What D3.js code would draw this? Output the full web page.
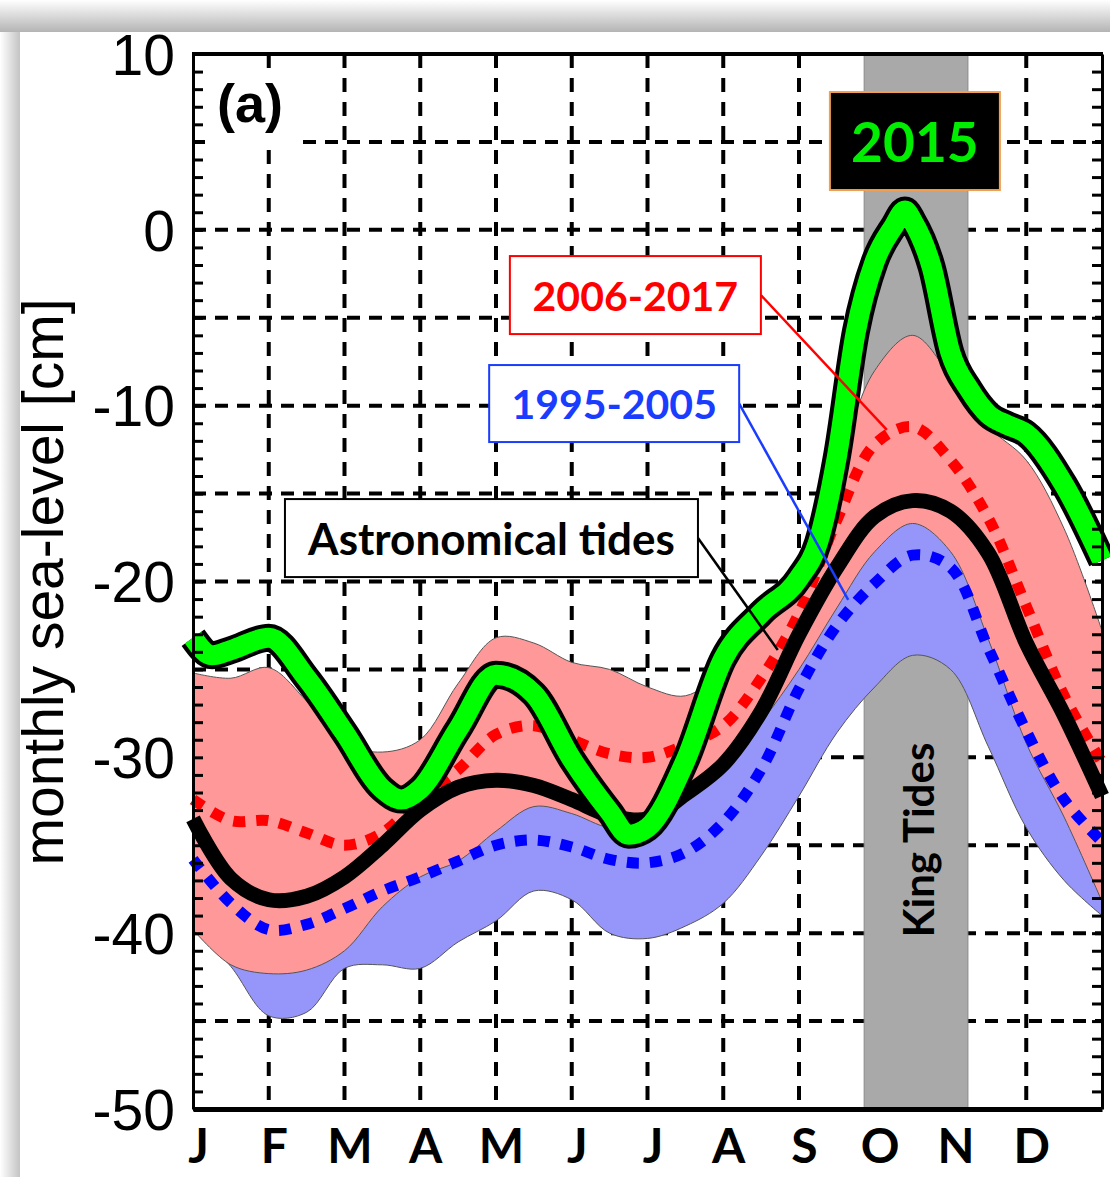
<!DOCTYPE html>
<html>
<head>
<meta charset="utf-8">
<script src="https://cdn.jsdelivr.net/npm/d3@7"></script>
<style>
  body { margin: 0; background: #fff; }
  svg { display: block; }
</style>
</head>
<body>
<div id="chart"></div>
<script>
// month labels along the bottom
const months = ["J", "F", "M", "A", "M", "J", "J", "A", "S", "O", "N", "D"];
const yTicks = [10, 0, -10, -20, -30, -40, -50];

// half-month sample grid (months since 1 Jan)
const gridT = [0, 0.5, 1, 1.5, 2, 2.5, 3, 3.5, 4, 4.5, 5, 5.5, 6, 6.5, 7, 7.5, 8, 8.5, 9, 9.5, 10, 10.5, 11, 11.5, 12];

// astronomical tides (black)
const astroTide = [-33.5, -36.9, -38.1, -37.9, -36.8, -35.0, -33.0, -31.7, -31.3, -31.6, -32.4, -33.3, -33.5, -32.1, -30.4, -27.4, -23.0, -19.2, -16.3, -15.4, -16.0, -18.4, -23.5, -27.6, -32.2];

// 2006-2017 mean and range
const mean0617  = [-32.4, -33.6, -33.6, -34.3, -35.0, -34.3, -32.3, -30.7, -28.7, -28.2, -29.0, -29.8, -30.0, -29.3, -28.2, -25.5, -21.8, -16.5, -12.2, -11.2, -13.1, -16.4, -21.4, -26.5, -30.3];
const upper0617 = [-25.2, -25.5, -24.9, -26.8, -29.2, -29.7, -29.0, -25.8, -23.2, -23.5, -24.6, -25.0, -26.0, -26.5, -25.0, -22.0, -18.5, -13.5, -8.0, -6.0, -8.3, -11.2, -13.1, -17.0, -22.8];
const lower0617 = [-39.8, -41.8, -42.3, -42.1, -41.0, -38.5, -36.8, -35.9, -34.2, -32.8, -33.2, -34.0, -33.8, -32.0, -30.5, -28.0, -25.0, -21.5, -18.3, -16.7, -18.3, -23.3, -29.2, -33.4, -38.2];

// 1995-2005 mean and range
const mean9505  = [-35.8, -38.3, -39.8, -39.5, -38.6, -37.6, -36.8, -35.9, -35.0, -34.7, -35.1, -35.8, -36.0, -35.4, -33.7, -30.7, -26.1, -22.5, -20.1, -18.5, -19.2, -23.8, -28.5, -32.4, -34.8];
const upper9505 = [-31.8, -34.3, -35.8, -35.5, -34.6, -33.6, -32.8, -31.9, -31.0, -30.7, -31.1, -31.8, -32.0, -31.4, -29.7, -26.7, -22.1, -18.5, -16.1, -14.5, -15.2, -19.8, -24.5, -28.4, -30.8];
const lower9505 = [-39.6, -41.9, -44.7, -44.5, -42.0, -41.8, -42.0, -40.5, -39.3, -37.6, -38.1, -40.0, -40.3, -39.6, -38.3, -35.6, -32.2, -28.6, -26.0, -24.2, -25.0, -29.4, -34.0, -37.0, -39.0];

// 2015 (green)
const t2015   = [0, 0.25, 0.5, 1, 1.5, 2, 2.5, 2.75, 3, 3.5, 4, 4.5, 5, 5.5, 5.75, 6, 6.5, 7, 7.5, 8, 8.25, 8.5, 8.75, 9, 9.25, 9.4, 9.5, 9.75, 10, 10.25, 10.5, 10.75, 11, 11.5, 12];
const sea2015 = [-23.2, -24.2, -23.9, -23.2, -25.5, -28.6, -31.8, -32.4, -31.8, -28.4, -25.3, -26.4, -30.1, -33.1, -34.4, -34.0, -30.2, -24.4, -21.8, -19.8, -17.8, -12.9, -5.8, -1.8, 0.2, 1.1, 0.5, -2.1, -7.0, -9.1, -10.5, -11.1, -11.6, -14.5, -18.8];

const kingTides = [8.86, 10.23];

const W = 1110, H = 1177;
const x = d3.scaleLinear().domain([0, 12]).range([193, 1102]);
const y = d3.scaleLinear().domain([-50, 10]).range([1109, 54]);

const svg = d3.select("#chart").append("svg")
  .attr("width", W)
  .attr("height", H);

// drop shadow of the pasted figure
const defs = svg.append("defs");
const gTop = defs.append("linearGradient").attr("id", "shTop").attr("x1", 0).attr("y1", 0).attr("x2", 0).attr("y2", 1);
gTop.append("stop").attr("offset", "0%").attr("stop-color", "#ffffff");
gTop.append("stop").attr("offset", "100%").attr("stop-color", "#b4b4b4");
const gLeft = defs.append("linearGradient").attr("id", "shLeft").attr("x1", 0).attr("y1", 0).attr("x2", 1).attr("y2", 0);
gLeft.append("stop").attr("offset", "0%").attr("stop-color", "#ffffff");
gLeft.append("stop").attr("offset", "100%").attr("stop-color", "#c4c4c4");

svg.append("rect").attr("x", 0).attr("y", 0).attr("width", W).attr("height", 32).attr("fill", "url(#shTop)");
svg.append("rect").attr("x", 0).attr("y", 32).attr("width", 20).attr("height", H - 32).attr("fill", "url(#shLeft)");

// dashed grid
const grid = svg.append("g");
grid.selectAll(".hg").data(d3.range(-45, 10, 5)).join("line")
  .attr("x1", x(0)).attr("x2", x(12))
  .attr("y1", d => y(d)).attr("y2", d => y(d))
  .attr("stroke", "#000").attr("stroke-width", 4).attr("stroke-dasharray", "13 9");
grid.selectAll(".vg").data(d3.range(1, 12)).join("line")
  .attr("x1", d => x(d)).attr("x2", d => x(d))
  .attr("y1", y(10)).attr("y2", y(-50))
  .attr("stroke", "#000").attr("stroke-width", 4).attr("stroke-dasharray", "14 10");

// panel label (a) sits on a white patch
svg.append("rect").attr("x", 205).attr("y", 78).attr("width", 93).attr("height", 68).attr("fill", "#fff");
svg.append("text").attr("x", 217).attr("y", 122)
  .attr("font-family", "Liberation Sans, Arial, sans-serif").attr("font-weight", "bold")
  .attr("font-size", 54).text("(a)");

// King Tides band
svg.append("rect")
  .attr("x", x(kingTides[0])).attr("y", y(10))
  .attr("width", x(kingTides[1]) - x(kingTides[0])).attr("height", y(-50) - y(10))
  .attr("fill", "#a9a9a9").attr("stroke", "#8a8a8a").attr("stroke-width", 1);

// ranges
const bandArea = (lo, hi) => d3.area()
  .x((d, i) => x(gridT[i]))
  .y0((d, i) => y(lo[i]))
  .y1((d, i) => y(hi[i]))
  .curve(d3.curveCatmullRom.alpha(0.5));

svg.append("path").datum(gridT).attr("d", bandArea(lower9505, upper9505))
  .attr("fill", "#9696fa").attr("stroke", "#555").attr("stroke-width", 1);
svg.append("path").datum(gridT).attr("d", bandArea(lower0617, upper0617))
  .attr("fill", "#ff9999").attr("stroke", "#555").attr("stroke-width", 1);

const lineOf = vals => d3.line()
  .x((d, i) => x(gridT[i]))
  .y((d, i) => y(vals[i]))
  .curve(d3.curveCatmullRom.alpha(0.5));

svg.append("path").datum(gridT).attr("d", lineOf(mean0617))
  .attr("fill", "none").attr("stroke", "#ff0000").attr("stroke-width", 11).attr("stroke-dasharray", "12 11");
svg.append("path").datum(gridT).attr("d", lineOf(mean9505))
  .attr("fill", "none").attr("stroke", "#0000ff").attr("stroke-width", 11).attr("stroke-dasharray", "12 11");
svg.append("path").datum(gridT).attr("d", lineOf(astroTide))
  .attr("fill", "none").attr("stroke", "#000").attr("stroke-width", 15);

// 2015, green with black outline
const line2015 = d3.line()
  .x((d, i) => x(t2015[i]))
  .y((d, i) => y(sea2015[i]))
  .curve(d3.curveMonotoneX);
svg.append("path").datum(t2015).attr("d", line2015)
  .attr("fill", "none").attr("stroke", "#000").attr("stroke-width", 28).attr("stroke-linejoin", "round");
svg.append("path").datum(t2015).attr("d", line2015)
  .attr("fill", "none").attr("stroke", "#00ff00").attr("stroke-width", 20).attr("stroke-linejoin", "round");

// axes frame with inward minor ticks
const minor = d3.range(-50, 11, 1);
svg.append("g").attr("transform", `translate(${x(0)},0)`)
  .call(d3.axisLeft(y).tickValues(minor).tickSize(-10).tickSizeOuter(0).tickFormat(""))
  .call(g => g.selectAll("line,path").attr("stroke", "#000").attr("stroke-width", 3));
svg.append("g").attr("transform", `translate(${x(12)},0)`)
  .call(d3.axisRight(y).tickValues(minor).tickSize(-10).tickSizeOuter(0).tickFormat(""))
  .call(g => g.selectAll("line,path").attr("stroke", "#000").attr("stroke-width", 3));
svg.append("line").attr("x1", x(0) - 1).attr("x2", x(12) + 1).attr("y1", y(10)).attr("y2", y(10))
  .attr("stroke", "#000").attr("stroke-width", 4);

// y tick labels (plain hyphen, as in the original)
svg.append("g").attr("transform", `translate(${x(0)},2)`)
  .call(d3.axisLeft(y).tickValues(yTicks).tickSize(0).tickPadding(18).tickFormat(d => String(d)))
  .call(g => g.select(".domain").remove())
  .call(g => g.selectAll("text")
    .attr("font-family", "Liberation Sans, Arial, sans-serif")
    .attr("font-size", 57).attr("fill", "#000"));

// month axis
svg.append("g").attr("transform", `translate(0,${y(-50)})`)
  .call(d3.axisBottom(x).tickValues(d3.range(12)).tickFormat(i => months[i]).tickSize(0).tickPadding(20).tickSizeOuter(0))
  .call(g => g.select(".domain").attr("stroke", "#000").attr("stroke-width", 5))
  .call(g => g.selectAll("text")
    .attr("dx", 5)
    .attr("font-family", "Lato, sans-serif").attr("font-weight", "bold")
    .attr("font-size", 48).attr("fill", "#000"));

// y axis title
svg.append("text")
  .attr("transform", "translate(63,582) rotate(-90)")
  .attr("text-anchor", "middle")
  .attr("font-family", "Liberation Sans, Arial, sans-serif")
  .attr("font-size", 57)
  .text("monthly sea-level [cm]");

// King Tides label
svg.append("text")
  .attr("transform", `translate(${x(9.57)},${y(-34.7)}) rotate(-90)`)
  .attr("text-anchor", "middle").attr("dominant-baseline", "central")
  .attr("font-family", "Lato, sans-serif").attr("font-weight", "bold")
  .attr("font-size", 42).text("King Tides");

// callout boxes: centre in data units, size in px, leader end in data units
const notes = [
  { text: "2006-2017", color: "#ff0000", stroke: "#ff0000", fill: "#fff", cx: 5.84, cy: -3.71, w: 251, h: 78, size: 41, to: [9.16, -11.38] },
  { text: "1995-2005", color: "#1a3cff", stroke: "#1a3cff", fill: "#fff", cx: 5.56, cy: -9.88, w: 250, h: 77, size: 41, to: [8.65, -21.05] },
  { text: "Astronomical tides", color: "#000", stroke: "#000", fill: "#fff", cx: 3.94, cy: -17.53, w: 413, h: 78, size: 44, to: [7.72, -23.9] },
  { text: "2015", color: "#00ee00", stroke: "#f0a050", fill: "#000", cx: 9.53, cy: 5.05, w: 170, h: 98, size: 55, to: null }
];

notes.forEach(n => {
  const cx = x(n.cx), cy = y(n.cy);
  if (n.to) {
    svg.append("line")
      .attr("x1", cx + n.w / 2).attr("y1", cy)
      .attr("x2", x(n.to[0])).attr("y2", y(n.to[1]))
      .attr("stroke", n.stroke).attr("stroke-width", 2.5);
  }
  svg.append("rect")
    .attr("x", cx - n.w / 2).attr("y", cy - n.h / 2)
    .attr("width", n.w).attr("height", n.h)
    .attr("fill", n.fill).attr("stroke", n.stroke).attr("stroke-width", 2);
  svg.append("text")
    .attr("x", cx).attr("y", cy)
    .attr("text-anchor", "middle").attr("dominant-baseline", "central")
    .attr("font-family", "Lato, sans-serif").attr("font-weight", "bold")
    .attr("font-size", n.size).attr("fill", n.color)
    .text(n.text);
});
</script>
</body>
</html>
